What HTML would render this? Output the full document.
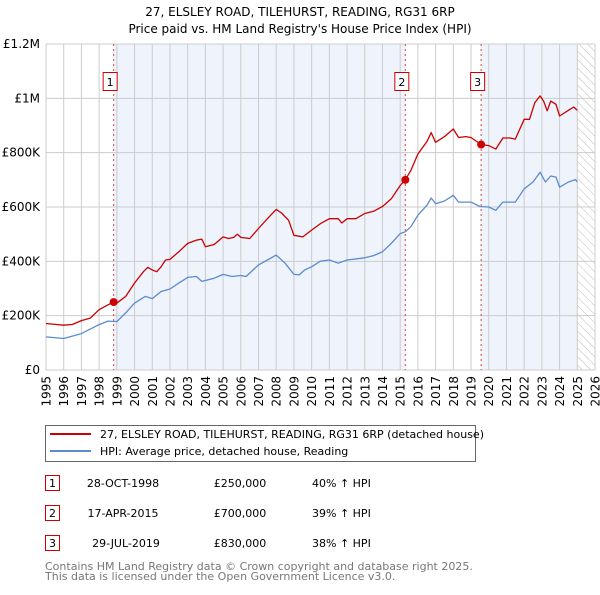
<!DOCTYPE html>
<html><head><meta charset="utf-8"><style>
body{margin:0;background:#fff;font-family:"Liberation Sans","DejaVu Sans",sans-serif;}
svg text{font-family:"DejaVu Sans","Liberation Sans",sans-serif;}
</style></head><body>
<svg id="chart" width="600" height="590" viewBox="0 0 600 590" xmlns="http://www.w3.org/2000/svg">
<defs><pattern id="hatch" patternUnits="userSpaceOnUse" width="6" height="6" patternTransform="rotate(-45)"><line x1="0" y1="0" x2="0" y2="6" stroke="#bbb" stroke-width="1"/></pattern></defs>
<text x="300" y="16" text-anchor="middle" font-size="12">27, ELSLEY ROAD, TILEHURST, READING, RG31 6RP</text>
<text x="300" y="33" text-anchor="middle" font-size="12">Price paid vs. HM Land Registry's House Price Index (HPI)</text>
<g id="bg"></g><g id="grid"></g><g id="axes"></g><g id="lines"></g><g id="marks"></g>
<g>
<rect x="45.5" y="425.5" width="430" height="36" fill="#fff" stroke="#666"/>
<line x1="50" y1="434" x2="91" y2="434" stroke="#cc0000" stroke-width="2"/>
<text x="100" y="438" font-size="11">27, ELSLEY ROAD, TILEHURST, READING, RG31 6RP (detached house)</text>
<line x1="50" y1="451" x2="91" y2="451" stroke="#5b8bd0" stroke-width="2"/>
<text x="100" y="455" font-size="11">HPI: Average price, detached house, Reading</text>
</g>
<g font-size="11">
<rect x="45.5" y="475.5" width="14" height="15" fill="#fff" stroke="#cc0000"/><text x="52.5" y="487" text-anchor="middle">1</text>
<text x="123" y="487" text-anchor="middle">28-OCT-1998</text><text x="240" y="487" text-anchor="middle">£250,000</text><text x="312" y="487">40% ↑ HPI</text>
<rect x="45.5" y="505.5" width="14" height="15" fill="#fff" stroke="#cc0000"/><text x="52.5" y="517" text-anchor="middle">2</text>
<text x="123" y="517" text-anchor="middle">17-APR-2015</text><text x="240" y="517" text-anchor="middle">£700,000</text><text x="312" y="517">39% ↑ HPI</text>
<rect x="45.5" y="535.5" width="14" height="15" fill="#fff" stroke="#cc0000"/><text x="52.5" y="547" text-anchor="middle">3</text>
<text x="126" y="547" text-anchor="middle">29-JUL-2019</text><text x="240" y="547" text-anchor="middle">£830,000</text><text x="312" y="547">38% ↑ HPI</text>
</g>
<text x="45" y="570" font-size="11" fill="#777">Contains HM Land Registry data © Crown copyright and database right 2025.</text>
<text x="45" y="580" font-size="11" fill="#777">This data is licensed under the Open Government Licence v3.0.</text>
</svg>
<script>
const yTicks=[0,200000,400000,600000,800000,1000000,1200000];
const yTickLabels=["£0","£200K","£400K","£600K","£800K","£1M","£1.2M"];
const years=[1995,1996,1997,1998,1999,2000,2001,2002,2003,2004,2005,2006,2007,2008,2009,2010,2011,2012,2013,2014,2015,2016,2017,2018,2019,2020,2021,2022,2023,2024,2025,2026];
const saleDates=[1998.82,2015.29,2019.57];
const salePrices=[250000,700000,830000];
const saleLabels=["1","2","3"];
const priceT=[1995,1995.5,1996,1996.5,1997,1997.5,1998,1998.5,1998.82,1999,1999.5,2000,2000.5,2000.75,2001,2001.25,2001.5,2001.75,2002,2002.5,2003,2003.5,2003.8,2004,2004.5,2005,2005.3,2005.6,2005.8,2006,2006.5,2007,2007.5,2008,2008.3,2008.7,2009,2009.5,2010,2010.5,2011,2011.5,2011.7,2012,2012.5,2013,2013.5,2014,2014.5,2015,2015.29,2015.6,2016,2016.5,2016.75,2017,2017.5,2018,2018.3,2018.7,2019,2019.57,2020,2020.4,2020.8,2021.2,2021.5,2022,2022.3,2022.6,2022.9,2023.1,2023.3,2023.5,2023.8,2024,2024.5,2024.8,2025];
const priceV=[171,168,165,168,182,191,222,240,250,246,271,320,362,378,368,362,380,405,407,435,466,478,482,454,462,490,484,488,500,488,484,521,557,591,578,551,496,490,515,539,557,557,541,557,557,576,584,602,630,679,700,734,795,840,874,838,859,887,856,859,856,830,826,813,854,854,850,923,923,984,1009,990,954,990,978,935,956,968,956];
const hpiT=[1995,1996,1997,1998,1998.5,1999,1999.5,2000,2000.6,2001,2001.5,2002,2002.5,2003,2003.5,2003.8,2004.5,2005,2005.5,2006,2006.3,2007,2007.5,2008,2008.5,2009,2009.3,2009.6,2010,2010.5,2011,2011.5,2012,2013,2013.5,2014,2014.5,2015,2015.3,2015.6,2016,2016.5,2016.75,2017,2017.5,2018,2018.3,2019,2019.5,2020,2020.4,2020.8,2021.5,2022,2022.5,2022.9,2023.2,2023.5,2023.8,2024,2024.5,2024.9,2025];
const hpiV=[122,116,134,167,180,178,210,246,271,263,289,298,320,341,344,326,338,352,344,348,344,387,405,423,393,352,350,368,380,401,405,393,405,413,421,435,466,502,509,527,570,606,633,612,622,643,618,618,602,600,588,618,618,667,692,728,692,714,710,673,692,701,692];
const X0=46,X1=595,Y0=370,Y1=44;
const x=t=>X0+(t-1995)/(2026-1995)*(X1-X0);
const y=v=>Y0-v/1200000*(Y0-Y1);
const NS="http://www.w3.org/2000/svg";
function mk(p,tag,a){const e=document.createElementNS(NS,tag);for(const k in a)e.setAttribute(k,a[k]);p.appendChild(e);return e;}
const bg=document.getElementById('bg'),grid=document.getElementById('grid'),axes=document.getElementById('axes'),lines=document.getElementById('lines'),marks=document.getElementById('marks');
let r=mk(bg,'rect',{x:X0,y:Y1,width:X1-X0,height:Y0-Y1,fill:'#fff'});


r=mk(bg,'rect',{x:x(saleDates[0]),y:Y1,width:x(saleDates[1])-x(saleDates[0]),height:Y0-Y1,fill:'#eef3fc'});


r=mk(bg,'rect',{x:x(saleDates[2]),y:Y1,width:x(2025)-x(saleDates[2]),height:Y0-Y1,fill:'#eef3fc'});


r=mk(bg,'rect',{x:x(2025),y:Y1,width:X1-x(2025),height:Y0-Y1,fill:'url(#hatch)'});


years.forEach(yr=>{
 const l=mk(grid,'line',{x1:x(yr),x2:x(yr),y1:Y1,y2:Y0,stroke:'#ccc','stroke-width':1});
 
 
 const px=x(yr)+4.5,py=Y0+6;
 const t=mk(axes,'text',{x:px,y:py,'text-anchor':'end','font-size':12,transform:'rotate(-90 '+px+' '+py+')'});
 
 
 t.textContent=yr;
});
yTicks.forEach((v,i)=>{
 const l=mk(grid,'line',{x1:X0,x2:X1,y1:y(v),y2:y(v),stroke:'#ccc','stroke-width':1});
 
 
 const t=mk(axes,'text',{x:40,y:y(v)+4,'text-anchor':'end','font-size':12});
 
 
 t.textContent=yTickLabels[i];
});
function path(T,V,col,name){
 const d=T.map((t,i)=>(i?'L':'M')+x(t).toFixed(1)+','+y(V[i]*1000).toFixed(1)).join('');
 const p=mk(lines,'path',{d:d,fill:'none',stroke:col,'stroke-width':1.3,'stroke-linejoin':'round'});
 
 
}
path(hpiT,hpiV,'#5b8bd0','hpi-line');
path(priceT,priceV,'#cc0000','price-paid-line');
saleDates.forEach((d,i)=>{
 const l=mk(marks,'line',{x1:x(d),x2:x(d),y1:Y1,y2:Y0,stroke:'#e04040','stroke-width':1,'stroke-dasharray':'2,3'});
 
 
 const c=mk(marks,'circle',{cx:x(d),cy:y(salePrices[i]),r:4,fill:'#cc0000'});
 
 
 const b=mk(marks,'rect',{x:x(d)-10.5,y:72.5,width:14,height:18,fill:'#fff',stroke:'#cc0000'});
 
 
 const t=mk(marks,'text',{x:x(d)-3.5,y:86,'text-anchor':'middle','font-size':11});
 
 
 t.textContent=saleLabels[i];
});
</script>
</body></html>
